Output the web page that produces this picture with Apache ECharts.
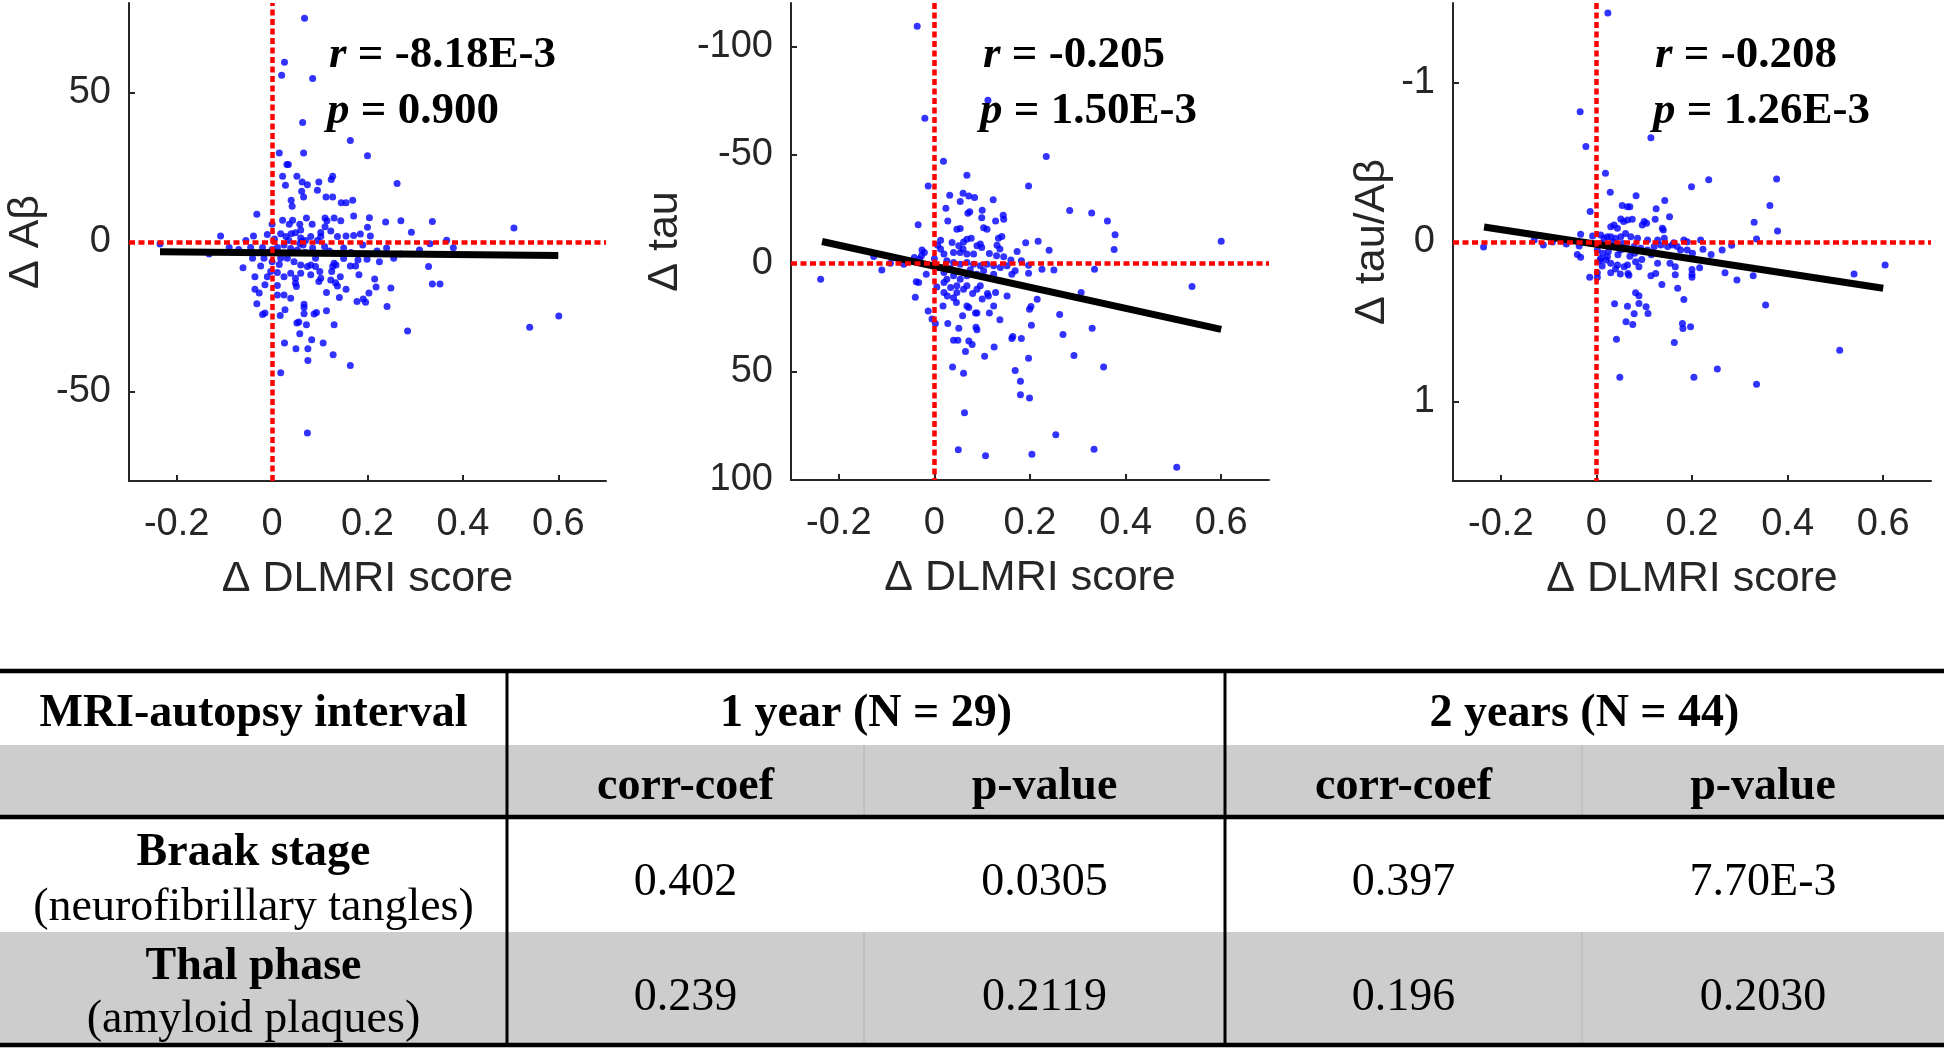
<!DOCTYPE html>
<html>
<head>
<meta charset="utf-8">
<script src="https://cdn.jsdelivr.net/npm/echarts@6/dist/echarts.min.js"></script>
<style>
html,body{margin:0;padding:0;background:#fff;}
#c{width:1944px;height:1050px;}
</style>
</head>
<body>
<div id="c"></div>
<script>
// ---------------- DATA ----------------
const xTicks = [-0.2, 0, 0.2, 0.4, 0.6];
const yTicksAb = [-50, 0, 50];
const yTicksTau = [-100, -50, 0, 50, 100];
const yTicksRatio = [-1, 0, 1];

const xAxisName = 'Δ DLMRI score';
const yAxisNames = ['Δ Aβ', 'Δ tau', 'Δ tau/Aβ'];

const annR = ['-8.18E-3', '-0.205', '-0.208'];
const annP = ['0.900', '1.50E-3', '1.26E-3'];

// Δ DLMRI score vs Δ Aβ
const pointsAb = [
[0.068,74.9],[0.026,60.2],[0.020,55.8],[0.085,54.7],[0.064,40.0],[0.164,34.0],[0.015,29.8],[0.066,29.8],[0.200,28.9],[0.031,25.9],
[0.034,25.9],[0.022,22.0],[0.052,22.0],[0.127,22.0],[0.124,20.9],[0.098,20.1],[0.063,20.1],[0.074,19.2],[0.028,19.0],[0.262,19.6],
[0.062,17.0],[0.095,17.3],[0.066,15.1],[0.113,15.1],[0.127,15.1],[0.040,14.0],[0.145,13.1],[0.155,13.1],[0.169,14.0],[0.042,12.0],
[-0.032,9.3],[0.111,8.0],[0.171,8.7],[0.204,8.1],[0.130,8.0],[0.022,7.3],[0.043,7.3],[0.072,8.0],[0.115,7.1],[0.144,7.1],
[0.238,6.7],[0.270,7.1],[0.336,6.9],[0.000,5.9],[0.036,5.9],[0.058,5.9],[0.084,5.9],[0.111,5.1],[0.200,4.9],[0.060,4.0],
[0.102,3.2],[0.123,3.7],[0.292,3.3],[0.507,4.7],[-0.108,2.0],[-0.039,2.0],[0.018,2.8],[0.029,1.8],[0.040,2.8],[0.049,3.1],
[0.060,1.3],[0.063,0.2],[0.065,-1.0],[0.058,-0.5],[0.070,0.5],[0.081,1.8],[0.102,1.8],[0.137,1.8],[0.155,2.0],[0.171,2.2],
[0.185,2.7],[0.206,2.0],[0.366,0.6],[0.331,-0.6],[0.380,-1.9],[0.309,-2.7],[-0.090,-1.8],[-0.132,-4.0],[-0.045,-1.8],[-0.020,-1.8],
[0.011,-1.8],[0.025,-1.0],[0.039,-2.2],[0.053,-2.7],[-0.235,-0.7],[-0.041,-5.4],[-0.017,-5.4],[0.000,-6.6],[-0.061,-8.6],[-0.024,-8.0],
[0.018,-5.4],[0.032,-5.4],[0.046,-6.6],[0.060,-7.7],[0.074,-8.2],[0.081,-7.7],[0.091,-5.4],[0.091,-8.2],[0.130,-7.1],[0.127,-8.2],
[0.134,-7.7],[0.164,-8.0],[0.175,-8.0],[0.199,-5.8],[0.225,-6.6],[0.255,-5.4],[0.328,-8.2],[-0.036,-11.6],[-0.010,-11.6],[-0.003,-9.9],
[0.011,-10.2],[0.025,-11.6],[0.039,-10.5],[0.049,-12.1],[0.060,-10.5],[0.081,-11.0],[0.100,-9.9],[0.102,-12.1],[0.125,-9.9],[0.143,-11.6],
[0.123,-12.7],[0.182,-11.0],[0.215,-12.4],[-0.015,-14.3],[0.011,-14.6],[0.049,-13.8],[0.051,-14.9],[0.098,-13.2],[0.133,-13.6],[0.137,-14.7],
[0.155,-15.8],[0.218,-15.1],[0.249,-15.4],[0.336,-14.1],[0.352,-14.1],[-0.036,-15.8],[-0.027,-17.1],[0.011,-17.7],[0.025,-17.7],[0.039,-18.8],
[0.114,-16.9],[0.141,-18.6],[0.178,-19.9],[0.191,-19.1],[0.196,-20.2],[0.203,-17.1],[-0.032,-20.7],[0.067,-20.8],[0.067,-21.9],[0.241,-21.6],
[-0.020,-24.3],[-0.015,-23.8],[0.017,-24.6],[0.027,-22.7],[0.067,-24.0],[0.088,-24.1],[0.093,-23.6],[0.114,-23.0],[0.052,-27.1],[0.056,-26.8],
[0.072,-27.7],[0.130,-27.7],[0.284,-29.8],[0.058,-30.7],[0.026,-33.8],[0.083,-32.7],[0.107,-33.8],[0.050,-35.7],[0.075,-35.7],[0.128,-37.7],
[0.075,-39.7],[0.164,-41.3],[0.018,-43.8],[0.074,-63.9],[0.601,-24.8],[0.540,-28.5],[0.000,-2.5],[0.005,1.0],[-0.008,-3.5],[0.035,0.5],
[0.045,-3.5],[0.015,-7.5],[0.070,-3.5],[0.085,-2.0],[0.095,0.5],[0.110,-1.5],[0.120,-3.0],[0.150,-2.0],[0.165,-3.5],[0.190,-1.0],
[0.220,-3.0],[-0.070,-2.5],[-0.055,0.5],[-0.010,2.5],[0.150,-5.5],[0.180,-6.0],[0.240,-2.0],[0.270,-4.0]
];

// Δ DLMRI score vs Δ tau
const pointsTau = [
[-0.036,-109.3],[-0.020,-66.9],[0.112,-75.2],[0.234,-49.2],[0.019,-47.0],[0.068,-40.6],[-0.013,-35.6],[0.197,-35.6],[0.032,-31.3],[0.060,-32.3],
[0.072,-31.0],[0.084,-30.3],[0.054,-28.4],[0.123,-29.2],[0.024,-25.3],[0.070,-23.0],[0.074,-23.7],[0.100,-24.4],[0.144,-22.1],[0.283,-24.3],
[0.329,-23.2],[0.362,-19.4],[0.378,-13.1],[0.376,-6.3],[-0.034,-17.7],[0.028,-19.4],[0.099,-20.9],[0.128,-19.5],[0.145,-20.3],[0.047,-15.7],
[0.054,-16.0],[0.103,-16.3],[0.110,-15.7],[0.077,-11.5],[0.134,-11.5],[0.141,-12.3],[0.191,-9.4],[0.217,-10.1],[0.240,-6.0],[0.600,-10.1],
[0.013,-10.6],[0.007,-8.3],[0.037,-9.5],[0.051,-8.0],[0.061,-9.8],[0.068,-11.0],[0.089,-8.0],[0.096,-8.8],[0.099,-7.2],[-0.026,-6.1],
[-0.021,-4.9],[-0.027,-3.4],[0.013,-6.5],[0.020,-4.2],[0.040,-4.9],[0.054,-4.9],[0.068,-4.2],[0.082,-4.2],[0.131,-8.3],[0.137,-6.5],
[0.130,-3.4],[0.173,-5.4],[-0.042,-2.6],[-0.031,-1.8],[-0.064,0.5],[-0.092,0.0],[-0.110,3.1],[-0.127,-3.1],[-0.238,7.4],[0.026,-1.1],
[0.040,-0.3],[0.054,0.5],[0.068,-0.3],[0.082,0.5],[0.096,1.2],[0.110,0.5],[0.124,1.2],[0.138,2.0],[0.152,1.2],[0.182,-1.1],
[0.197,0.9],[0.225,2.8],[0.250,3.1],[0.335,2.8],[-0.017,5.1],[0.020,4.3],[0.026,7.4],[0.040,5.8],[0.054,7.4],[0.068,5.8],
[0.089,5.1],[0.103,3.5],[0.124,5.1],[0.162,5.1],[0.169,3.5],[0.197,4.6],[-0.038,8.6],[-0.033,8.9],[0.020,8.9],[0.034,11.2],
[0.047,10.4],[0.061,12.0],[0.068,10.4],[0.089,12.0],[0.096,10.4],[0.111,14.0],[0.113,15.1],[0.128,13.5],[0.152,15.1],[-0.040,15.7],
[0.020,13.5],[0.027,15.1],[0.040,15.9],[0.047,13.5],[0.307,13.5],[0.539,10.8],[0.215,16.6],[0.018,19.7],[0.046,18.1],[0.068,19.7],
[0.072,20.4],[0.124,19.7],[0.202,20.0],[0.199,21.2],[-0.013,22.0],[-0.005,25.8],[0.002,27.8],[0.028,27.8],[0.059,24.3],[0.086,23.0],
[0.089,23.0],[0.115,23.0],[0.137,26.1],[0.262,23.7],[0.051,30.0],[0.087,29.6],[0.089,30.7],[0.203,28.6],[0.330,30.0],[0.269,32.9],
[0.040,35.6],[0.049,35.6],[0.072,35.9],[0.079,37.5],[0.164,33.8],[0.162,34.7],[0.182,34.7],[0.125,38.7],[0.065,40.7],[0.105,42.9],
[0.197,43.8],[0.292,42.6],[0.038,47.9],[0.061,50.8],[0.169,49.5],[0.180,54.5],[0.180,60.7],[0.199,62.2],[0.354,47.9],[0.063,69.0],
[0.254,79.1],[0.050,86.0],[0.107,88.8],[0.204,88.1],[0.334,85.8],[0.507,94.1],[0.010,2.0],[0.000,-2.0],[0.033,2.5],[0.075,3.0],
[0.060,-6.5],[0.115,-4.5],[0.145,-3.0],[0.160,-1.5],[0.005,11.0],[0.080,14.0],[0.100,16.5]
];

// Δ DLMRI score vs Δ tau/Aβ
const pointsRatio = [
[0.024,-1.438],[-0.034,-0.818],[-0.022,-0.599],[0.114,-0.654],[0.019,-0.432],[0.029,-0.312],[0.083,-0.291],[0.199,-0.346],[0.235,-0.390],[0.377,-0.396],
[0.363,-0.229],[0.330,-0.124],[0.379,-0.069],[0.335,-0.019],[-0.013,-0.191],[0.054,-0.229],[0.065,-0.222],[0.070,-0.222],[0.143,-0.260],[0.125,-0.208],
[0.153,-0.159],[0.051,-0.145],[0.057,-0.128],[0.065,-0.138],[0.075,-0.143],[0.100,-0.128],[0.105,-0.117],[0.096,-0.107],[0.123,-0.143],[0.138,-0.086],
[0.140,-0.075],[0.030,-0.096],[0.037,-0.107],[0.044,-0.086],[-0.033,-0.048],[-0.008,-0.038],[0.009,-0.044],[0.016,-0.023],[0.023,-0.033],[0.030,-0.033],
[0.040,-0.023],[0.051,-0.033],[0.061,-0.054],[0.072,-0.033],[0.086,-0.023],[0.107,-0.013],[0.128,-0.013],[0.142,-0.023],[0.162,0.004],[0.183,-0.013],
[0.190,-0.002],[0.218,-0.013],[-0.130,-0.013],[-0.111,0.019],[-0.092,0.000],[-0.063,0.013],[-0.036,0.025],[-0.040,0.078],[-0.033,0.096],[0.002,0.050],
[0.013,0.071],[0.023,0.092],[0.009,0.103],[0.020,0.113],[0.040,0.029],[0.051,0.050],[0.065,0.040],[0.079,0.029],[0.093,0.040],[0.107,0.050],
[0.121,0.029],[0.135,0.019],[0.149,0.029],[0.159,0.019],[0.169,0.029],[0.176,0.050],[0.190,0.050],[0.201,0.071],[0.223,0.046],[0.240,0.078],
[0.263,0.050],[0.283,0.021],[0.007,0.117],[0.030,0.134],[0.044,0.145],[0.058,0.155],[0.065,0.145],[0.082,0.124],[0.089,0.155],[0.128,0.134],
[0.154,0.134],[0.165,0.155],[0.216,0.161],[0.200,0.172],[0.200,0.203],[0.200,0.222],[0.030,0.193],[0.050,0.201],[0.066,0.197],[0.068,0.208],
[0.114,0.212],[0.124,0.197],[0.165,0.205],[0.269,0.193],[0.294,0.239],[0.328,0.212],[-0.014,0.222],[0.002,0.222],[0.002,0.193],[0.137,0.266],
[0.170,0.291],[0.183,0.361],[0.082,0.319],[0.089,0.338],[0.089,0.386],[0.038,0.388],[0.065,0.403],[0.104,0.407],[0.108,0.449],[0.079,0.451],
[0.062,0.501],[0.076,0.518],[0.180,0.512],[0.181,0.543],[0.197,0.532],[0.354,0.396],[0.042,0.610],[0.163,0.631],[0.049,0.849],[0.204,0.849],
[0.253,0.797],[0.335,0.893],[-0.236,0.032],[0.539,0.201],[0.604,0.145],[0.509,0.680],[0.010,0.010],[0.025,0.060],[0.035,0.000],[0.045,0.080],
[0.055,0.010],[0.070,0.090],[0.080,0.070],[0.095,0.110],[0.115,0.080],[0.040,0.170],[0.012,0.150]
];

// least-squares fit lines (end points)
const fitAb = [[-0.235,-3.3],[0.6,-4.5]];
const fitTau = [[-0.235,-10.0],[0.6,30.5]];
const fitRatio = [[-0.235,-0.094],[0.6,0.29]];

// table
const tableHeader = ['MRI-autopsy interval', '1 year (N = 29)', '2 years (N = 44)'];
const subHeader = ['corr-coef', 'p-value', 'corr-coef', 'p-value'];
const rowTitles = ['Braak stage', 'Thal phase'];
const rowSubtitles = ['(neurofibrillary tangles)', '(amyloid plaques)'];
const tableValues = [
  ['0.402', '0.0305', '0.397', '7.70E-3'],
  ['0.239', '0.2119', '0.196', '0.2030']
];

// ---------------- STYLE / LAYOUT ----------------
const SANS = '"Liberation Sans", Arial, Helvetica, sans-serif';
const SERIF = '"Liberation Serif", "Times New Roman", Times, serif';
const AX = '#262626';

const grids = [
  {left: 129, top: 3, width: 477, height: 478},
  {left: 791, top: 3, width: 478, height: 477},
  {left: 1453, top: 3, width: 478, height: 478}
];
const yCfg = [
  {min: -80, max: 80, inverse: false, ticks: yTicksAb, nameGap: 81},
  {min: -120, max: 100, inverse: true, ticks: yTicksTau, nameGap: 104},
  {min: -1.5, max: 1.5, inverse: true, ticks: yTicksRatio, nameGap: 59}
];
const pts = [pointsAb, pointsTau, pointsRatio];
const fits = [fitAb, fitTau, fitRatio];
const annX = [[329, 327], [983, 980], [1655, 1653]];

const xAxes = [], yAxes = [], series = [];
for (let i = 0; i < 3; i++) {
  xAxes.push({
    gridIndex: i, type: 'value', min: -0.3, max: 0.7,
    name: xAxisName, nameLocation: 'middle', nameGap: 77,
    nameTextStyle: {fontFamily: SANS, fontSize: 43, color: AX},
    axisLine: {show: true, onZero: false, lineStyle: {color: AX, width: 2}},
    axisTick: {show: true, inside: true, length: 6, customValues: xTicks, lineStyle: {color: AX, width: 2}},
    axisLabel: {show: true, customValues: xTicks, fontFamily: SANS, fontSize: 38, color: AX, margin: 25},
    splitLine: {show: false}
  });
  const c = yCfg[i];
  yAxes.push({
    gridIndex: i, type: 'value', min: c.min, max: c.max, inverse: c.inverse,
    name: yAxisNames[i], nameLocation: 'middle', nameGap: c.nameGap, nameRotate: 90,
    nameTextStyle: {fontFamily: SANS, fontSize: 43, color: AX},
    axisLine: {show: true, onZero: false, lineStyle: {color: AX, width: 2}},
    axisTick: {show: true, inside: true, length: 6, customValues: c.ticks, lineStyle: {color: AX, width: 2}},
    axisLabel: {show: true, customValues: c.ticks, fontFamily: SANS, fontSize: 38, color: AX, margin: 18},
    splitLine: {show: false}
  });
  series.push({
    type: 'scatter', xAxisIndex: i, yAxisIndex: i, data: pts[i],
    symbol: 'circle', symbolSize: 7, itemStyle: {color: '#0000ff'}, z: 2,
    markLine: {
      silent: true, symbol: ['none', 'none'], label: {show: false}, animation: false,
      lineStyle: {color: '#ff0000', type: [6, 3.5], width: 4.5},
      emphasis: {disabled: true},
      data: [{xAxis: 0}, {yAxis: 0}]
    }
  });
  series.push({
    type: 'line', xAxisIndex: i, yAxisIndex: i, data: fits[i],
    symbol: 'none', lineStyle: {color: '#000000', width: 7}, z: 4, silent: true
  });
}

// annotation texts and table as graphics
const graphics = [];
for (let i = 0; i < 3; i++) {
  const fs = 45;
  const rich = {
    i: {fontFamily: SERIF, fontSize: fs, fontWeight: 'bold', fontStyle: 'italic', fill: '#000', color: '#000'},
    b: {fontFamily: SERIF, fontSize: fs, fontWeight: 'bold', fill: '#000', color: '#000'}
  };
  graphics.push({type: 'text', z: 10, style: {x: annX[i][0], y: 55, text: '{i|r}{b| = ' + annR[i] + '}', rich: rich,
    fontFamily: SERIF, fontSize: fs, fontWeight: 'bold', fill: '#000', align: 'left', verticalAlign: 'middle'}});
  graphics.push({type: 'text', z: 10, style: {x: annX[i][1], y: 111, text: '{i|p}{b| = ' + annP[i] + '}', rich: rich,
    fontFamily: SERIF, fontSize: fs, fontWeight: 'bold', fill: '#000', align: 'left', verticalAlign: 'middle'}});
}

// table layout
const W = 1944;
const colX = [0, 507, 864, 1225, 1582, 1944];
const rowY = [671, 745, 817, 932, 1045];
const GRAY = '#cdcdcd';
function rect(x, y, w, h, fill) { graphics.push({type: 'rect', z: 1, shape: {x: x, y: y, width: w, height: h}, style: {fill: fill}}); }
function line(x1, y1, x2, y2, w, col) { graphics.push({type: 'line', z: 3, shape: {x1: x1, y1: y1, x2: x2, y2: y2}, style: {stroke: col, lineWidth: w}}); }
function txt(s, x, y, fs, bold) {
  graphics.push({type: 'text', z: 5, style: {text: s, x: x, y: y, fontFamily: SERIF, fontSize: fs,
    fontWeight: bold ? 'bold' : 'normal', fill: '#000', align: 'center', verticalAlign: 'middle'}});
}
rect(0, rowY[1], W, rowY[2] - rowY[1], GRAY);
rect(0, rowY[3], W, rowY[4] - rowY[3], GRAY);
line(colX[2], rowY[1], colX[2], rowY[2], 1, '#b4b4b4');
line(colX[4], rowY[1], colX[4], rowY[2], 1, '#b4b4b4');
line(colX[2], rowY[3], colX[2], rowY[4], 1, '#b4b4b4');
line(colX[4], rowY[3], colX[4], rowY[4], 1, '#b4b4b4');
line(colX[1], rowY[0], colX[1], rowY[4], 3, '#000');
line(colX[3], rowY[0], colX[3], rowY[4], 3, '#000');
line(0, rowY[0], W, rowY[0], 4.5, '#000');
line(0, rowY[2], W, rowY[2], 4.5, '#000');
line(0, rowY[4], W, rowY[4], 4.5, '#000');

const FS = 46;
const DY = 5;
txt(tableHeader[0], (colX[0] + colX[1]) / 2, 709 + DY, FS, true);
txt(tableHeader[1], (colX[1] + colX[3]) / 2, 709 + DY, FS, true);
txt(tableHeader[2], (colX[3] + colX[5]) / 2, 709 + DY, FS, true);
for (let k = 0; k < 4; k++) txt(subHeader[k], (colX[k + 1] + colX[k + 2]) / 2, 782 + DY, FS, true);
const titleY = [848, 962], subY = [903, 1015], valY = [878, 993];
for (let r = 0; r < 2; r++) {
  txt(rowTitles[r], (colX[0] + colX[1]) / 2, titleY[r] + DY, FS, true);
  txt(rowSubtitles[r], (colX[0] + colX[1]) / 2, subY[r] + DY, FS, false);
  for (let k = 0; k < 4; k++) txt(tableValues[r][k], (colX[k + 1] + colX[k + 2]) / 2, valY[r] + DY, FS, false);
}

const chart = echarts.init(document.getElementById('c'), null, {renderer: 'canvas'});
chart.setOption({
  animation: false,
  backgroundColor: '#ffffff',
  grid: grids,
  xAxis: xAxes,
  yAxis: yAxes,
  series: series,
  graphic: {elements: graphics}
});
</script>
</body>
</html>
